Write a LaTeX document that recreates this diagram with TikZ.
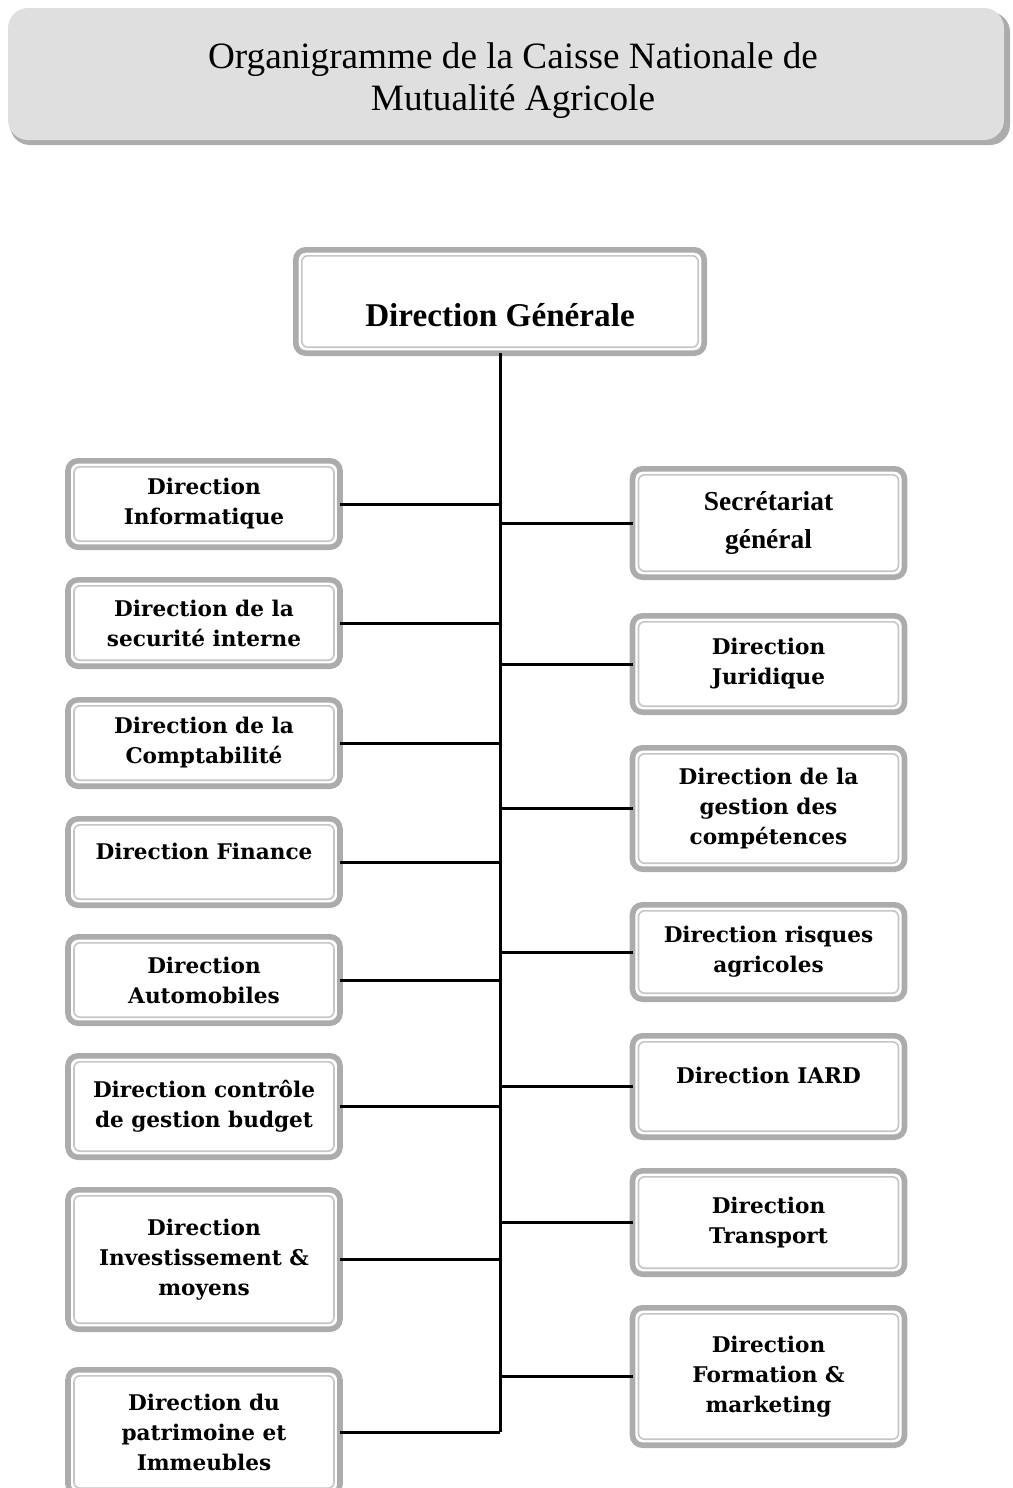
\documentclass[tikz,border=0pt]{standalone}
\usepackage{fontspec}
\setmainfont{Liberation Serif}
\newfontfamily\dvserif{DejaVu Serif}
\usetikzlibrary{positioning}

\tikzset{
  dirbox/.style={draw=gray!65, line width=2.8pt, rounded corners=5pt, fill=white,
    align=center, inner sep=2pt, outer sep=0pt, minimum width=136pt},
  innerline/.style={draw=gray!45, line width=0.8pt, rounded corners=3pt},
  boxfont/.style={font=\dvserif\bfseries\fontsize{10.8}{15}\selectfont},
  link/.style={line width=1.5pt}
}

\begin{document}
\begin{tikzpicture}[x=0.5pt,y=-0.5pt]
\useasboundingbox (0,0) rectangle (1012,1488);
% bandeau du titre
\fill[gray!65, rounded corners=10pt] (10,12) rectangle (1010,145);
\fill[gray!25, rounded corners=10pt] (8,8) rectangle (1004,140);
\node[align=center, font=\fontsize{18.6}{21}\selectfont] (titre) at (513,81)
  {Organigramme de la Caisse Nationale de\\Mutualité Agricole};

\node[dirbox, minimum width=204.2pt, minimum height=51.7pt, text height=27pt, text depth=2pt,
  font=\bfseries\fontsize{16.6}{20}\selectfont] (dg) at (500,301.5)
  {Direction Générale};

% colonne gauche
\foreach \n/\y/\h/\txt in {
  inf/504/43.2/{Direction\\Informatique},
  sec/623/43.2/{Direction de la\\securité interne},
  cpt/743/43.2/{Direction de la\\Comptabilité},
  fin/862/43.2/{Direction Finance\\[-4pt]\mbox{}},
  aut/980/43.2/{Direction\\Automobiles},
  cdg/1106.5/50.7/{Direction contrôle\\de gestion budget},
  inv/1259.5/69.7/{Direction\\Investissement \&\\moyens},
  pat/1432/62.2/{Direction du\\patrimoine et\\Immeubles}}
{
  \node[dirbox, boxfont, minimum height=\h pt] (\n) at (204,\y) {\txt};
  \draw[link] (\n.east) -- (\n.east -| dg.south);
}

% colonne droite
\node[dirbox, minimum height=54.2pt, font=\bfseries\fontsize{13.7}{19}\selectfont]
  (sg) at (768.5,523) {Secrétariat\\général};
\draw[link] (sg.west) -- (sg.west -| dg.south);
\foreach \n/\y/\h/\txt in {
  jur/664/48.2/{Direction\\Juridique},
  gc/808.5/60.7/{Direction de la\\gestion des\\compétences},
  rsq/952/47.2/{Direction risques\\agricoles},
  iard/1086.5/50.7/{Direction IARD\\[-4pt]\mbox{}},
  trp/1222.5/51.7/{Direction\\Transport},
  frm/1376.5/68.7/{Direction\\Formation \&\\marketing}}
{
  \node[dirbox, boxfont, minimum height=\h pt] (\n) at (768.5,\y) {\txt};
  \draw[link] (\n.west) -- (\n.west -| dg.south);
}

\draw[link] (dg.south) -- (dg.south |- pat.east);

% filets interieurs des cadres
\foreach \n in {dg,inf,sec,cpt,fin,aut,cdg,inv,pat,sg,jur,gc,rsq,iard,trp,frm}
  \draw[innerline] ([shift={(3pt,-3pt)}]\n.north west) rectangle ([shift={(-3pt,3pt)}]\n.south east);
\end{tikzpicture}
\end{document}
